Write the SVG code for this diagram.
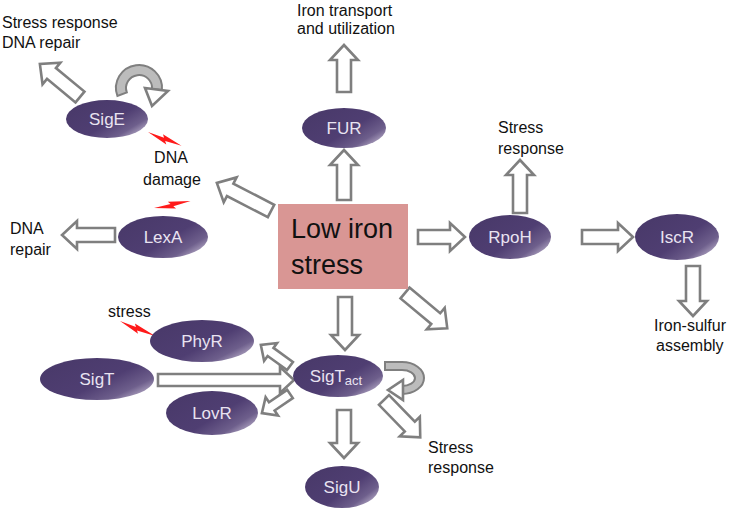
<svg xmlns="http://www.w3.org/2000/svg" width="742" height="508" viewBox="0 0 742 508">
<defs>
<linearGradient id="ng" x1="0.15" y1="0.2" x2="1" y2="0.85">
<stop offset="0" stop-color="#4a3a6b"/>
<stop offset="0.5" stop-color="#4f3e72"/>
<stop offset="0.78" stop-color="#6e5f8c"/>
<stop offset="1" stop-color="#c4bad2"/>
</linearGradient>
</defs>
<style>
.node{fill:url(#ng)}
.nt{font-family:"Liberation Sans",Arial,sans-serif;font-size:17px;fill:#e9e3f1;text-anchor:middle}
.lb{font-family:"Liberation Sans",Arial,sans-serif;font-size:16px;fill:#111}
.ar{fill:#fff;stroke:#7f7f7f;stroke-width:2.6;stroke-linejoin:miter}
.lp{fill:#bcbcbc;stroke:#7f7f7f;stroke-width:2}
.bolt{fill:#ff1a1a}
</style>
<rect width="742" height="508" fill="#fff"/>

<g id="connectors">
<path class="ar" transform="translate(344,200) rotate(-90)" d="M0,-7 H35 V-14 L50,0 L35,14 V7 H0 Z"/>
<path class="ar" transform="translate(344,92) rotate(-90)" d="M0,-7 H32 V-14 L47,0 L32,14 V7 H0 Z"/>
<path class="ar" transform="translate(271,211) rotate(-152.6)" d="M0,-7 H46 V-14 L61,0 L46,14 V7 H0 Z"/>
<path class="ar" transform="translate(80,97) rotate(-140.5)" d="M0,-7 H37 V-14 L52,0 L37,14 V7 H0 Z"/>
<path class="ar" transform="translate(115,235) rotate(180)" d="M0,-7 H38 V-14 L53,0 L38,14 V7 H0 Z"/>
<path class="ar" transform="translate(418,237)" d="M0,-7 H32 V-14 L47,0 L32,14 V7 H0 Z"/>
<path class="ar" transform="translate(520,213) rotate(-90)" d="M0,-7 H38 V-14 L53,0 L38,14 V7 H0 Z"/>
<path class="ar" transform="translate(582,237)" d="M0,-7 H36 V-14 L51,0 L36,14 V7 H0 Z"/>
<path class="ar" transform="translate(693,266) rotate(90)" d="M0,-7 H35 V-14 L50,0 L35,14 V7 H0 Z"/>
<path class="ar" transform="translate(405,293) rotate(39.8)" d="M0,-7 H40 V-14 L55,0 L40,14 V7 H0 Z"/>
<path class="ar" transform="translate(345,297) rotate(90)" d="M0,-7 H38 V-14 L53,0 L38,14 V7 H0 Z"/>
<path class="ar" transform="translate(344,410) rotate(90)" d="M0,-7 H33 V-14 L48,0 L33,14 V7 H0 Z"/>
<path class="ar" transform="translate(384,400) rotate(45.8)" d="M0,-7 H37 V-14 L52,0 L37,14 V7 H0 Z"/>
<path class="ar" transform="translate(290,366) rotate(-144.1)" d="M0,-5 H24 V-11 L36,0 L24,11 V5 H0 Z"/>
<path class="ar" transform="translate(290,394) rotate(145.8)" d="M0,-5 H22 V-11 L34,0 L22,11 V5 H0 Z"/>
<path class="ar" transform="translate(158,380)" d="M0,-6 H122 V-13 L136,0 L122,13 V6 H0 Z"/>
<path class="lp" d="M117.4,95.9 A23,23 0 1 1 161.9,90 L152,89.1 A13,13 0 1 0 126.8,92.4 Z"/>
<path class="ar" d="M145,88 L168,91 L152,106 Z"/>
<path class="lp" d="M385,362 L402,362 A22,16 0 0 1 402,394 L402,386 A13,8 0 0 0 402,370 L385,370 Z"/>
<path class="ar" d="M403,380 L403,400 L388,390 Z"/>
</g>

<g id="bolts">
<path class="bolt" transform="translate(148,132) rotate(16)" d="M0,0 L17,1 L15,-2 L36,4 L19,4 L21,7 Z"/>
<path class="bolt" transform="translate(154,208) rotate(-17)" d="M0,0 L17,1 L15,-2 L37,4 L19,4 L21,7 Z"/>
<path class="bolt" transform="translate(120,321) rotate(17)" d="M0,0 L17,1 L15,-2 L38,4 L19,4 L21,7 Z"/>
</g>

<g id="lowiron">
<rect x="278" y="204" width="130" height="85" fill="#d99694"/>
<text x="291" y="238" font-family="Liberation Sans,Arial,sans-serif" font-size="27" fill="#111">Low iron</text>
<text x="291" y="274" font-family="Liberation Sans,Arial,sans-serif" font-size="27" fill="#111">stress</text>
</g>

<g id="SigE"><ellipse class="node" cx="107" cy="119" rx="41" ry="19"/><text class="nt" x="107" y="125">SigE</text></g>
<g id="FUR"><ellipse class="node" cx="344" cy="128" rx="42" ry="20"/><text class="nt" x="344" y="134">FUR</text></g>
<g id="LexA"><ellipse class="node" cx="163" cy="237" rx="45" ry="21"/><text class="nt" x="163" y="243">LexA</text></g>
<g id="RpoH"><ellipse class="node" cx="510" cy="237" rx="41" ry="22"/><text class="nt" x="510" y="243">RpoH</text></g>
<g id="IscR"><ellipse class="node" cx="677" cy="237" rx="42" ry="23"/><text class="nt" x="677" y="243">IscR</text></g>
<g id="PhyR"><ellipse class="node" cx="202" cy="341" rx="52" ry="21"/><text class="nt" x="202" y="347">PhyR</text></g>
<g id="SigT"><ellipse class="node" cx="97" cy="379" rx="57" ry="21"/><text class="nt" x="97" y="385">SigT</text></g>
<g id="LovR"><ellipse class="node" cx="212" cy="413" rx="46" ry="22"/><text class="nt" x="212" y="419">LovR</text></g>
<g id="SigTact"><ellipse class="node" cx="338" cy="376" rx="45" ry="21"/><text class="nt" x="336" y="382">SigT<tspan font-size="13" dy="3">act</tspan></text></g>
<g id="SigU"><ellipse class="node" cx="342" cy="487" rx="37" ry="21"/><text class="nt" x="342" y="493">SigU</text></g>

<g id="labels">
<text class="lb" x="2" y="28">Stress response</text>
<text class="lb" x="2" y="48">DNA repair</text>
<text class="lb" x="297" y="16">Iron transport</text>
<text class="lb" x="297" y="34">and utilization</text>
<text class="lb" x="171" y="163" text-anchor="middle">DNA</text>
<text class="lb" x="172" y="185" text-anchor="middle">damage</text>
<text class="lb" x="10" y="234">DNA</text>
<text class="lb" x="10" y="255">repair</text>
<text class="lb" x="498" y="133">Stress</text>
<text class="lb" x="498" y="154">response</text>
<text class="lb" x="654" y="331">Iron-sulfur</text>
<text class="lb" x="656" y="351">assembly</text>
<text class="lb" x="108" y="317">stress</text>
<text class="lb" x="428" y="453">Stress</text>
<text class="lb" x="428" y="473">response</text>
</g>
</svg>
